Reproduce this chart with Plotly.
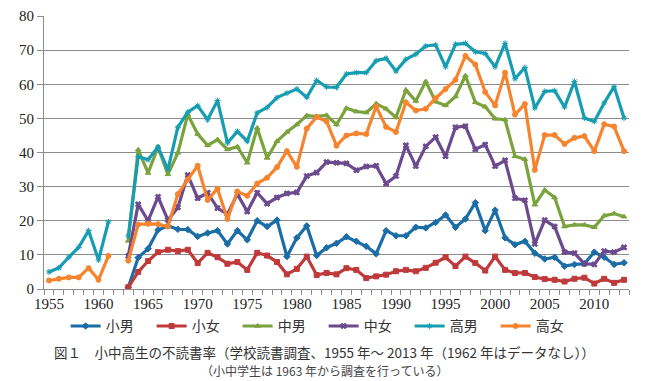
import plotly.graph_objects as go

years = list(range(1955, 2014))
N = None

takao = [5.0, 6.2, 9.3, 12.2, 17.1, 8.5, 19.7, N, 15.5, 38.8,
         37.9, 41.6, 35.0, 47.4, 51.8, 53.7, 49.6, 55.2, 42.8, 46.2,
         43.3, 51.6, 53.2, 56.1, 57.4, 58.6, 56.2, 61.1, 59.2, 59.1,
         63.0, 63.4, 63.4, 66.9, 67.6, 63.9, 67.3, 68.8, 71.2, 71.5,
         65.1, 71.7, 72.0, 69.5, 69.0, 65.1, 72.0, 61.6, 64.9, 53.0,
         57.9, 58.1, 53.3, 60.8, 50.1, 49.1, 54.5, 59.3, 50.1]

takajo = [2.5, 3.0, 3.4, 3.4, 6.1, 2.7, 9.7, N, 8.3, 18.9,
          19.1, 19.0, 18.3, 27.8, 32.1, 36.1, 26.1, 29.4, 20.5, 28.6,
          27.3, 30.9, 32.6, 35.7, 40.4, 35.8, 47.0, 50.4, 49.1, 42.0,
          45.0, 45.6, 45.4, 53.5, 47.5, 46.0, 54.7, 52.3, 52.8, 55.9,
          58.6, 61.3, 68.3, 65.8, 57.7, 53.8, 63.4, 51.1, 54.2, 34.9,
          45.1, 45.1, 42.5, 44.3, 44.8, 40.4, 48.3, 47.6, 40.4]

pre = [N] * 8  # 1955-1962: no survey of elementary / junior high

shodan = pre + [0.5, 9.2,
                11.8, 17.3, 18.5, 17.5, 17.4, 15.4, 16.4, 17.1, 13.2, 17.1,
                14.4, 20.0, 18.3, 20.2, 9.5, 15.0, 18.5, 9.8, 12.1, 13.4,
                15.3, 14.0, 12.5, 10.3, 17.1, 15.6, 15.6, 18.1, 17.9, 19.5,
                21.7, 18.1, 20.5, 25.3, 17.1, 23.1, 15.0, 13.0, 14.0, 10.5,
                8.8, 9.3, 6.7, 7.2, 7.4, 10.8, 9.3, 7.2, 7.7]

shojo = pre + [0.5, 5.0,
               8.2, 10.8, 11.5, 11.1, 11.5, 7.6, 10.6, 9.3, 7.4, 7.9,
               5.6, 10.6, 9.8, 7.9, 4.3, 5.9, 9.5, 4.1, 4.7, 4.3,
               6.1, 5.6, 3.2, 3.7, 4.2, 5.2, 5.6, 5.2, 6.2, 7.7,
               9.3, 6.7, 9.5, 7.6, 5.4, 9.5, 5.6, 4.7, 4.7, 3.5,
               2.9, 2.7, 2.2, 3.0, 3.3, 1.6, 3.0, 1.8, 2.7]

chudan = pre + [14.1, 40.8,
                34.0, 41.6, 33.6, 39.9, 51.1, 45.4, 42.1, 43.8, 40.9, 41.7,
                37.0, 47.2, 38.4, 43.3, 46.0, 48.2, 50.8, 50.6, 50.9, 48.2,
                53.0, 52.0, 51.7, 54.3, 52.8, 50.3, 58.3, 55.1, 60.8, 54.9,
                53.8, 56.4, 62.5, 54.7, 53.4, 49.9, 49.6, 38.9, 38.0, 24.7,
                29.0, 26.8, 18.3, 18.8, 18.8, 18.1, 21.5, 22.1, 21.2]

chujo = pre + [9.7, 24.8,
               20.0, 27.0, 20.2, 23.9, 33.4, 26.6, 28.2, 23.7, 21.9, 27.8,
               22.7, 28.2, 25.0, 26.8, 28.0, 28.3, 33.1, 34.1, 37.2, 37.0,
               36.8, 34.8, 35.9, 36.1, 30.9, 33.1, 42.1, 36.0, 41.8, 44.5,
               38.9, 47.4, 47.7, 40.9, 42.3, 36.0, 37.7, 26.6, 26.0, 13.2,
               20.2, 18.3, 10.8, 10.5, 7.4, 7.2, 11.1, 10.8, 12.2]

series = [
    ("小男", shodan, "#1B6DA6", "diamond"),
    ("小女", shojo, "#BF3A3B", "square"),
    ("中男", chudan, "#7AA33D", "triangle-up"),
    ("中女", chujo, "#6B4A8E", "x"),
    ("高男", takao, "#179DB2", "asterisk-open"),
    ("高女", takajo, "#F6842E", "circle"),
]

tick_years = [1955, 1960, 1965, 1970, 1975, 1980, 1985, 1990, 1995, 2000, 2005, 2010]

fig = go.Figure()
for name, vals, color, sym in series:
    fig.add_trace(go.Scatter(
        x=years, y=vals, name=name, mode="lines+markers",
        connectgaps=False,
        line=dict(color=color, width=3.2),
        marker=dict(symbol=sym, size=5, color=color,
                    line=dict(color=color, width=1)),
    ))

grid = "#8C8C8C"
# page body has an 8px default margin, so the figure is 8px smaller
fig.update_layout(
    width=645, height=373,
    margin=dict(l=36, r=24, t=8, b=92, autoexpand=False),
    paper_bgcolor="white", plot_bgcolor="white",
    showlegend=True,
    legend=dict(orientation="h", x=0.478, xanchor="center",
                y=-0.137, yanchor="middle",
                font=dict(family="Noto Sans CJK JP", size=14, color="#333"),
                entrywidth=41, entrywidthmode="pixels",
                itemwidth=30, bgcolor="rgba(0,0,0,0)"),
    xaxis=dict(range=[1954.5, 2013.5], tickmode="array", tickvals=tick_years,
               ticktext=[str(y) for y in tick_years], ticks="",
               showgrid=False, zeroline=False,
               showline=True, linecolor=grid, linewidth=1,
               ticklabeloverflow="allow", ticklabelstandoff=1,
               tickfont=dict(family="Liberation Serif", size=15, color="#222"),
               minor=dict(ticks="outside", tick0=1954.5, dtick=1, ticklen=5,
                          tickcolor=grid, showgrid=False)),
    yaxis=dict(range=[0, 80], dtick=10, showgrid=True, gridcolor=grid,
               gridwidth=1, zeroline=False, showline=True, linecolor=grid,
               linewidth=1, ticks="outside", ticklen=6, tickcolor=grid,
               ticklabeloverflow="allow",
               tickfont=dict(family="Liberation Serif", size=15, color="#222")),
    annotations=[
        dict(text="図１　小中高生の不読書率（学校読書調査、1955 年～ 2013 年（1962 年はデータなし））",
             xref="paper", yref="paper", x=0.48, y=-0.232, xanchor="center",
             yanchor="middle", showarrow=False,
             font=dict(family="Noto Sans CJK JP", size=13.5, color="#333")),
        dict(text="（小中学生は 1963 年から調査を行っている）",
             xref="paper", yref="paper", x=0.48, y=-0.297, xanchor="center",
             yanchor="middle", showarrow=False,
             font=dict(family="Noto Sans CJK JP", size=12, color="#444")),
    ],
)

fig.write_html("out.html")
